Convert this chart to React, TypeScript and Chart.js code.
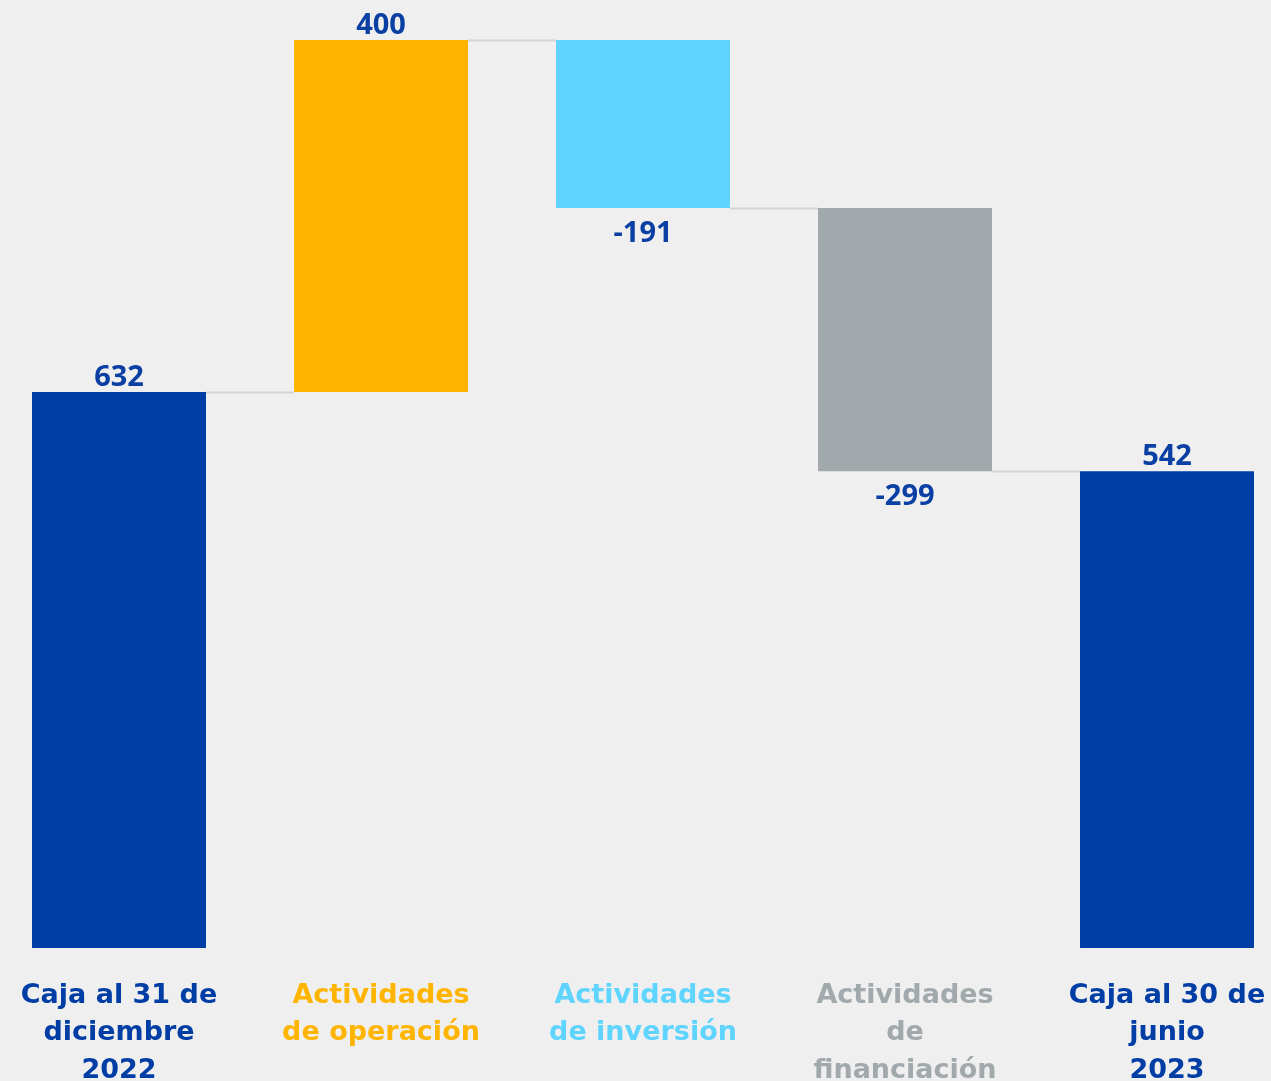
import React, { useEffect, useRef } from "react";
import { Chart, registerables } from "chart.js";

Chart.register(...registerables);

const categories: string[][] = [
  ["Caja al 31 de", "diciembre", "2022"],
  ["Actividades", "de operación"],
  ["Actividades", "de inversión"],
  ["Actividades", "de", "financiación"],
  ["Caja al 30 de", "junio", "2023"],
];
const openingCash = 632;
const flows = [400, -191, -299];
const closingCash = 542;
const labelValues = [632, 400, -191, -299, 542];
const barColors = ["#003DA5", "#FFB500", "#5FD4FF", "#A2A9AC", "#003DA5"];
const tickColors = ["#003DA5", "#FFB500", "#5FD4FF", "#A2A9AC", "#003DA5"];

function buildRanges(): [number, number][] {
  const ranges: [number, number][] = [[0, openingCash]];
  let running = openingCash;
  for (const f of flows) {
    const next = running + f;
    ranges.push([Math.min(running, next), Math.max(running, next)]);
    running = next;
  }
  ranges.push([0, closingCash]);
  return ranges;
}

const TICK_FONT = "'DejaVu Sans', 'Open Sans', sans-serif";
const VALUE_FONT = "'Open Sans', 'DejaVu Sans', sans-serif";

export default function App() {
  const ref = useRef<HTMLCanvasElement | null>(null);
  useEffect(() => {
    if (!ref.current) return;
    const ranges = buildRanges();
    const levels: number[] = [];
    let run = openingCash;
    levels.push(run);
    for (const f of flows) {
      run += f;
      levels.push(run);
    }

    const connectors = {
      id: "connectors",
      beforeDatasetsDraw(chart: any) {
        const meta = chart.getDatasetMeta(0);
        const y = chart.scales.y;
        const ctx = chart.ctx;
        ctx.save();
        ctx.strokeStyle = "#D4D4D4";
        ctx.lineWidth = 2;
        for (let i = 0; i < levels.length; i++) {
          const a = meta.data[i];
          const b = meta.data[i + 1];
          if (!a || !b) continue;
          const py = Math.round(y.getPixelForValue(levels[i])) + 0.5;
          ctx.beginPath();
          ctx.moveTo(a.x + a.width / 2, py);
          ctx.lineTo(b.x - b.width / 2, py);
          ctx.stroke();
        }
        ctx.restore();
      },
    };

    const valueLabels = {
      id: "valueLabels",
      afterDatasetsDraw(chart: any) {
        const meta = chart.getDatasetMeta(0);
        const ctx = chart.ctx;
        ctx.save();
        ctx.font = `bold 29px ${VALUE_FONT}`;
        ctx.fillStyle = "#0A3FA3";
        ctx.textAlign = "center";
        ctx.textBaseline = "middle";
        meta.data.forEach((el: any, i: number) => {
          const v = labelValues[i];
          const top = Math.min(el.y, el.base);
          const bottom = Math.max(el.y, el.base);
          if (v >= 0) ctx.fillText(String(v), el.x, top - 14.5);
          else ctx.fillText(String(v), el.x, bottom + 25.5);
        });
        ctx.restore();
      },
    };

    const chart = new Chart(ref.current, {
      type: "bar",
      data: {
        labels: categories as any,
        datasets: [
          {
            data: ranges as any,
            backgroundColor: barColors,
            borderWidth: 0,
            barPercentage: 0.664,
            categoryPercentage: 1,
          },
        ],
      },
      options: {
        responsive: false,
        animation: false,
        devicePixelRatio: 1,
        layout: { padding: { top: 33, left: 0, right: 0, bottom: 0 } },
        plugins: { legend: { display: false }, tooltip: { enabled: false } },
        scales: {
          x: {
            grid: { display: false, drawTicks: false },
            border: { display: false },
            afterFit: (scale: any) => {
              scale.height = 133;
              scale.paddingLeft = 0;
              scale.paddingRight = 0;
            },
            ticks: {
              padding: 29,
              maxRotation: 0,
              autoSkip: false,
              color: (c: any) => tickColors[c.index],
              font: { family: TICK_FONT, weight: "bold", size: 27, lineHeight: 1.39 },
            },
          },
          y: {
            display: false,
            min: 0,
            max: 1040,
          },
        },
      },
      plugins: [connectors, valueLabels],
    });
    return () => chart.destroy();
  }, []);

  return (
    <div
      style={{
        position: "fixed",
        left: 0,
        top: 0,
        width: 1271,
        height: 1081,
        overflow: "hidden",
        background: "#EFEFEF",
      }}
    >
      <canvas
        ref={ref}
        width={1310}
        height={1081}
        style={{ position: "absolute", left: -12, top: 0, width: 1310, height: 1081 }}
      />
    </div>
  );
}
